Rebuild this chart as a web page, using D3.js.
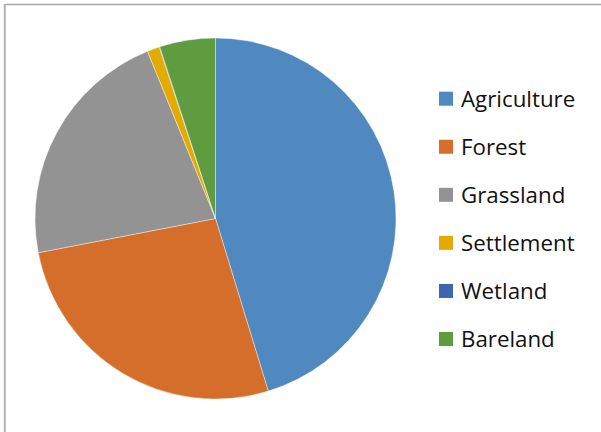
<!DOCTYPE html>
<html>
<head>
<meta charset="utf-8">
<script src="https://cdn.jsdelivr.net/npm/d3@7"></script>
<style>
  body { margin: 0; background: #fff; }
</style>
</head>
<body>
<div id="chart"></div>
<script>
// land use shares (%)
let categories = ["Agriculture", "Forest", "Grassland", "Settlement", "Wetland", "Bareland"];
let values = [45.3, 26.7, 21.9, 1.1, 0.05, 5.0];
let palette = ["#4f89c0", "#d46e2a", "#939393", "#e3aa00", "#3d66b0", "#5f9b3f"];

let width = 601, height = 432;
let cx = 215.5, cy = 218.5, radius = 180.5;

let svg = d3.select('#chart').append('svg')
  .attr('width', width)
  .attr('height', height);

// chart frame (only top and left edges are visible)
svg.append('line')
  .attr('x1', 4.5).attr('y1', 4.5).attr('x2', width).attr('y2', 4.5)
  .attr('stroke', '#a9a9a9').attr('stroke-width', 1.5);
svg.append('line')
  .attr('x1', 4.8).attr('y1', 4).attr('x2', 4.8).attr('y2', height)
  .attr('stroke', '#b3b3b3').attr('stroke-width', 2);

let color = d3.scaleOrdinal().domain(categories).range(palette);

let data = categories.map((c, i) => ({ name: c, value: values[i] }));

let pie = d3.pie().value(d => d.value).sort(null);
let arc = d3.arc().innerRadius(0).outerRadius(radius);

let g = svg.append('g').attr('transform', 'translate(' + cx + ',' + cy + ')');

g.selectAll('.slice')
  .data(pie(data))
  .enter()
  .append('path').classed('slice', true)
  .attr('d', arc)
  .attr('fill', d => color(d.data.name))
  .attr('stroke', '#fff')
  .attr('stroke-width', 0.4);

// legend
let legendY = d3.scalePoint()
  .domain(categories)
  .range([98.7, 339]);

let legend = svg.selectAll('.leg')
  .data(categories)
  .enter()
  .append('g').classed('leg', true)
  .attr('transform', d => 'translate(439,' + legendY(d) + ')');

legend.append('rect')
  .attr('x', 0).attr('y', -7)
  .attr('width', 14).attr('height', 14)
  .attr('fill', d => color(d));

legend.append('text')
  .attr('x', 22)
  .attr('y', 0)
  .attr('dy', '0.37em')
  .attr('font-family', 'Open Sans, sans-serif')
  .attr('font-size', 22.3)
  .attr('fill', '#111')
  .text(d => d);
</script>
</body>
</html>
